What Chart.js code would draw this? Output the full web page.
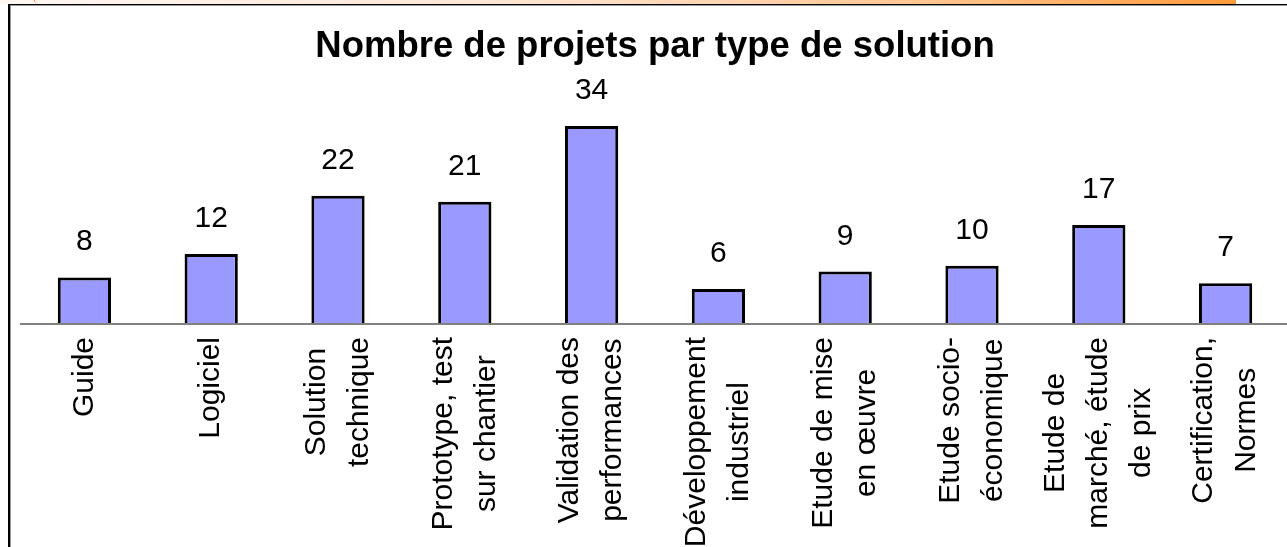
<!DOCTYPE html>
<html><head><meta charset="utf-8">
<script src="https://cdn.jsdelivr.net/npm/chart.js@4.4.1/dist/chart.umd.min.js"></script>
<style>
html,body{margin:0;padding:0;width:1287px;height:547px;overflow:hidden;background:#fff;}
#topbar{position:absolute;left:0;top:0;width:1236px;height:4px;background:linear-gradient(to right,#fff7f2 0%,#ffe6d4 40%,#ffc590 75%,#ff9a3a 100%);}
#corner{position:absolute;left:30px;top:-6px;width:14px;height:10px;border-left:3px solid #ff7a20;border-radius:0 0 0 12px;transform:rotate(30deg);}
#frame{position:absolute;left:8px;top:4px;width:1300px;height:560px;border-top:1px solid #000;border-left:2px solid #000;box-shadow:inset 1px 1px 0 #999;}
canvas{position:absolute;left:0;top:0;}
</style></head><body>
<div id="topbar"></div><div id="corner"></div><div id="frame"></div>
<canvas id="c" width="1292" height="547"></canvas>
<script>
const categories = [
  "Guide",
  "Logiciel",
  ["Solution", "technique"],
  ["Prototype, test", "sur chantier"],
  ["Validation des", "performances"],
  ["Développement", "industriel"],
  ["Etude de mise", "en œuvre"],
  ["Etude socio-", "économique"],
  ["Etude de", "marché, étude", "de prix"],
  ["Certification,", "Normes"]
];
const values = [8, 12, 22, 21, 34, 6, 9, 10, 17, 7];
const titleText = "Nombre de projets par type de solution";
const FONT = '"Liberation Sans", Arial, sans-serif';

const labelPlugin = {
  id: 'customLabels',
  afterDatasetsDraw(chart) {
    const ctx = chart.ctx;
    const xs = chart.scales.x;
    const meta = chart.getDatasetMeta(0);
    ctx.save();
    ctx.fillStyle = '#000';
    ctx.font = '30px ' + FONT;
    ctx.textAlign = 'center';
    ctx.textBaseline = 'alphabetic';
    meta.data.forEach((bar, i) => {
      ctx.fillText(String(values[i]), bar.x, bar.y - 27);
    });
    categories.forEach((lab, i) => {
      const lines = Array.isArray(lab) ? lab : [lab];
      const px = xs.getPixelForValue(i);
      const maxW = Math.max(...lines.map(l => ctx.measureText(l).width));
      const cy = chart.chartArea.bottom + 13 + maxW / 2;
      ctx.save();
      ctx.translate(px, cy);
      ctx.rotate(-Math.PI / 2);
      ctx.textAlign = 'center';
      ctx.textBaseline = 'middle';
      lines.forEach((l, j) => ctx.fillText(l, 0, (j - (lines.length - 1) / 2) * 43));
      ctx.restore();
    });
    ctx.restore();
  }
};

new Chart(document.getElementById('c'), {
  type: 'bar',
  data: {
    labels: categories,
    datasets: [{
      data: values,
      backgroundColor: '#9999FF',
      borderColor: '#000000',
      borderWidth: 3,
      barPercentage: 0.42,
      categoryPercentage: 1
    }]
  },
  options: {
    responsive: false,
    animation: false,
    layout: { padding: { left: 21, right: 3, top: 0, bottom: 223 } },
    plugins: {
      legend: { display: false },
      tooltip: { enabled: false },
      title: {
        display: true,
        text: titleText,
        color: '#000',
        font: { family: FONT, size: 36.5, weight: 'bold', lineHeight: 1.2 },
        padding: { top: 25, bottom: 22.2 }
      }
    },
    scales: {
      x: {
        grid: { display: false, drawTicks: false },
        ticks: { display: false },
        border: { display: true, color: '#808080', width: 2, z: 1 }
      },
      y: { display: false, min: 0, max: 40 }
    }
  },
  plugins: [labelPlugin]
});
</script>
</body></html>
